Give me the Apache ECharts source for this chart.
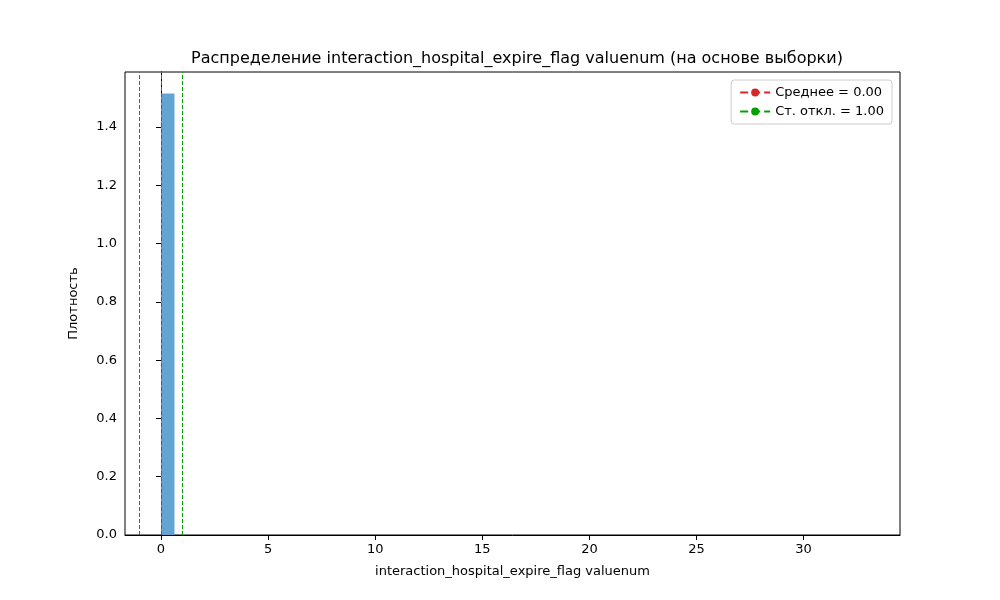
<!DOCTYPE html>
<html>
<head>
<meta charset="UTF-8">
<script src="https://cdn.jsdelivr.net/npm/echarts@6/dist/echarts.min.js"></script>
<style>body{margin:0}#main{width:1000px;height:600px}</style>
</head>
<body>
<div id="main"></div>
<script>
// гистограмма (плотность)
var binStart = [0.0];
var binEnd = [0.63];
var density = [1.515];
var meanVal = 0.0;
var stdVal = 1.0;
var xTicks = [0, 5, 10, 15, 20, 25, 30];
var yTicks = [0, 0.2, 0.4, 0.6, 0.8, 1.0, 1.2, 1.4];

var bars = [];
for (var i = 0; i < density.length; i++) bars.push([binStart[i], binEnd[i], density[i]]);

var font = 'DejaVu Sans';
var chart = echarts.init(document.getElementById('main'));
chart.setOption({
  animation: false,
  textStyle: {fontFamily: font},
  title: {
    text: 'Распределение interaction_hospital_expire_flag valuenum (на основе выборки)',
    left: 512, top: 46, textAlign: 'center',
    textStyle: {fontSize: 16, fontWeight: 'normal', color: '#000', fontFamily: font}
  },
  legend: {
    orient: 'vertical', right: 108, top: 80,
    borderColor: '#ccc', borderWidth: 1, borderRadius: 3, padding: [6, 8],
    itemWidth: 30, itemHeight: 10, itemGap: 6,
    textStyle: {fontSize: 13, color: '#000'},
    data: ['Среднее = 0.00', 'Ст. откл. = 1.00']
  },
  grid: {left: 125, right: 100, top: 72, bottom: 65, show: true, borderColor: '#000', borderWidth: 1},
  xAxis: {
    type: 'value', min: -1.68, max: 34.5,
    name: 'interaction_hospital_expire_flag valuenum', nameLocation: 'middle', nameGap: 30,
    nameTextStyle: {fontSize: 13, color: '#000'},
    splitLine: {show: false},
    axisLine: {lineStyle: {color: '#000'}},
    axisTick: {customValues: xTicks, lineStyle: {color: '#000'}},
    axisLabel: {customValues: xTicks, color: '#000', fontSize: 13}
  },
  yAxis: {
    type: 'value', min: 0, max: 1.589,
    name: 'Плотность', nameLocation: 'middle', nameGap: 45,
    nameTextStyle: {fontSize: 13, color: '#000'},
    splitLine: {show: false},
    axisLine: {show: true, lineStyle: {color: '#000'}},
    axisTick: {show: true, customValues: yTicks, lineStyle: {color: '#000'}},
    axisLabel: {customValues: yTicks, color: '#000', fontSize: 13, formatter: function (v) { return v.toFixed(1); }}
  },
  series: [
    {
      type: 'custom', data: bars,
      renderItem: function (params, api) {
        var p0 = api.coord([api.value(0), api.value(2)]);
        var p1 = api.coord([api.value(1), 0]);
        return {type: 'rect', shape: {x: p0[0], y: p0[1], width: p1[0] - p0[0], height: p1[1] - p0[1]},
          style: {fill: '#5b9fd0', opacity: 0.95}};
      },
      z: 1
    },
    {
      name: 'Среднее = 0.00', type: 'line', data: [], symbol: 'none',
      lineStyle: {color: '#d62728', type: 'dashed', width: 1}, itemStyle: {color: '#d62728'},
      markLine: {symbol: 'none', silent: true, label: {show: false},
        lineStyle: {color: '#d62728', type: [4, 2], width: 1},
        data: [{xAxis: meanVal}]},
      z: 3
    },
    {
      name: 'Ст. откл. = 1.00', type: 'line', data: [], symbol: 'none',
      lineStyle: {color: '#00a000', type: 'dashed', width: 1}, itemStyle: {color: '#00a000'},
      markLine: {symbol: 'none', silent: true, label: {show: false},
        lineStyle: {color: '#00a000', type: [4, 2], width: 1},
        data: [{xAxis: meanVal - stdVal}, {xAxis: meanVal + stdVal}]},
      z: 3
    }
  ]
});
</script>
</body>
</html>
